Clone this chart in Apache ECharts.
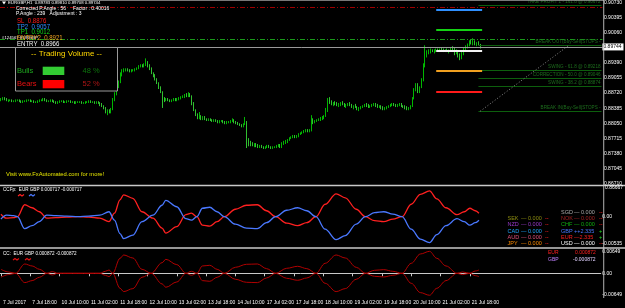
<!DOCTYPE html>
<html><head><meta charset="utf-8">
<script src="https://cdn.jsdelivr.net/npm/echarts@6/dist/echarts.min.js"></script>
<style>html,body{margin:0;padding:0;background:#000;}#c{width:625px;height:308px;}</style>
</head><body><div id="c"></div>
<script>
// ---- DATA ----
// hourly EURGBP bars: [open, high, low, close]
const candles = [
[.8856,.8861,.8854,.8858],[.8858,.8863,.8856,.8861],[.8861,.8863,.8856,.8858],[.8858,.8861,.8854,.8856],[.8856,.8858,.8852,.8856],
[.8856,.8858,.8854,.8856],[.8856,.8858,.8852,.8854],[.8854,.8856,.8852,.8854],[.8854,.8858,.8852,.8856],[.8856,.8858,.8854,.8856],
[.8856,.8858,.8852,.8854],[.8854,.8856,.8850,.8852],[.8852,.8856,.8850,.8854],[.8854,.8856,.8852,.8854],[.8854,.8858,.8852,.8856],
[.8856,.8858,.8854,.8856],[.8856,.8858,.8852,.8854],[.8854,.8856,.8852,.8854],[.8854,.8856,.8850,.8852],[.8852,.8854,.8850,.8852],
[.8852,.8856,.8850,.8854],[.8854,.8858,.8852,.8856],[.8856,.8858,.8854,.8856],[.8856,.8861,.8854,.8858],[.8858,.8861,.8854,.8856],
[.8856,.8858,.8852,.8854],[.8854,.8856,.8852,.8854],[.8854,.8858,.8852,.8856],[.8856,.8858,.8852,.8854],[.8854,.8856,.8850,.8852],
[.8852,.8854,.8848,.8850],[.8850,.8854,.8848,.8852],[.8852,.8856,.8850,.8854],[.8854,.8856,.8852,.8854],[.8854,.8856,.8850,.8852],
[.8852,.8854,.8850,.8852],[.8852,.8856,.8850,.8854],[.8854,.8856,.8852,.8854],[.8854,.8856,.8850,.8852],[.8852,.8854,.8850,.8852],
[.8852,.8854,.8848,.8850],[.8850,.8854,.8848,.8852],[.8852,.8854,.8850,.8852],[.8852,.8854,.8850,.8852],[.8852,.8854,.8848,.8850],
[.8850,.8852,.8848,.8850],[.8850,.8854,.8848,.8852],[.8852,.8854,.8850,.8852],[.8852,.8856,.8850,.8854],[.8854,.8856,.8850,.8852],
[.8852,.8854,.8850,.8852],[.8852,.8854,.8848,.8850],[.8850,.8854,.8848,.8852],[.8852,.8854,.8848,.8850],[.8850,.8852,.8843,.8845],
[.8845,.8850,.8841,.8843],[.8843,.8845,.8836,.8839],[.8839,.8841,.8827,.8830],[.8830,.8836,.8823,.8834],[.8834,.8836,.8827,.8830],
[.8830,.8839,.8827,.8836],[.8836,.8861,.8834,.8856],[.8856,.8874,.8854,.8870],[.8870,.8892,.8867,.8887],[.8887,.8900,.8883,.8896],
[.8896,.8918,.8894,.8914],[.8914,.8925,.8909,.8920],[.8920,.8927,.8918,.8923],[.8923,.8927,.8920,.8925],[.8925,.8927,.8920,.8923],
[.8923,.8925,.8918,.8920],[.8920,.8925,.8918,.8923],[.8923,.8925,.8920,.8923],[.8923,.8927,.8920,.8925],[.8925,.8929,.8923,.8927],
[.8927,.8934,.8925,.8932],[.8932,.8936,.8929,.8934],[.8934,.8936,.8929,.8932],[.8932,.8938,.8929,.8936],[.8936,.8949,.8932,.8940],
[.8940,.8943,.8929,.8932],[.8932,.8936,.8923,.8927],[.8927,.8929,.8914,.8916],[.8916,.8918,.8907,.8909],[.8909,.8914,.8900,.8903],
[.8903,.8905,.8892,.8894],[.8894,.8896,.8881,.8883],[.8883,.8887,.8872,.8874],[.8874,.8876,.8839,.8858],[.8858,.8863,.8852,.8856],
[.8856,.8861,.8854,.8858],[.8858,.8861,.8854,.8856],[.8856,.8858,.8852,.8854],[.8854,.8858,.8852,.8856],[.8856,.8861,.8854,.8858],
[.8858,.8861,.8854,.8856],[.8856,.8861,.8854,.8858],[.8858,.8863,.8856,.8861],[.8861,.8865,.8858,.8863],[.8863,.8867,.8861,.8865],
[.8865,.8870,.8861,.8867],[.8867,.8872,.8863,.8865],[.8865,.8874,.8863,.8870],[.8870,.8872,.8863,.8865],[.8865,.8867,.8845,.8850],
[.8850,.8852,.8832,.8834],[.8834,.8836,.8821,.8825],[.8825,.8827,.8814,.8819],[.8819,.8830,.8814,.8821],[.8821,.8823,.8812,.8816],
[.8816,.8821,.8812,.8819],[.8819,.8821,.8812,.8814],[.8814,.8816,.8810,.8812],[.8812,.8816,.8810,.8814],[.8814,.8816,.8810,.8812],
[.8812,.8814,.8808,.8810],[.8810,.8814,.8808,.8812],[.8812,.8814,.8808,.8810],[.8810,.8812,.8805,.8808],[.8808,.8812,.8805,.8810],
[.8810,.8812,.8808,.8810],[.8810,.8812,.8805,.8808],[.8808,.8810,.8803,.8805],[.8805,.8810,.8803,.8808],[.8808,.8810,.8805,.8808],
[.8808,.8812,.8805,.8810],[.8810,.8816,.8808,.8812],[.8812,.8814,.8805,.8808],[.8808,.8810,.8803,.8805],[.8805,.8808,.8801,.8803],
[.8803,.8805,.8799,.8801],[.8801,.8803,.8796,.8799],[.8799,.8805,.8796,.8803],[.8803,.8819,.8801,.8808],[.8808,.8810,.8750,.8768],
[.8768,.8772,.8754,.8761],[.8761,.8766,.8754,.8759],[.8759,.8763,.8754,.8757],[.8757,.8761,.8752,.8759],[.8759,.8761,.8752,.8754],
[.8754,.8759,.8750,.8752],[.8752,.8757,.8750,.8754],[.8754,.8757,.8750,.8752],[.8752,.8754,.8748,.8750],[.8750,.8754,.8748,.8752],
[.8752,.8757,.8750,.8754],[.8754,.8757,.8750,.8752],[.8752,.8754,.8748,.8750],[.8750,.8754,.8748,.8752],[.8752,.8754,.8750,.8752],
[.8752,.8757,.8750,.8754],[.8754,.8759,.8752,.8757],[.8757,.8759,.8750,.8752],[.8752,.8763,.8750,.8761],[.8761,.8766,.8757,.8763],
[.8763,.8768,.8759,.8766],[.8766,.8770,.8761,.8768],[.8768,.8774,.8766,.8772],[.8772,.8776,.8770,.8774],[.8774,.8779,.8772,.8776],
[.8776,.8779,.8772,.8774],[.8774,.8779,.8772,.8776],[.8776,.8783,.8774,.8781],[.8781,.8785,.8779,.8783],[.8783,.8787,.8781,.8785],
[.8785,.8790,.8783,.8787],[.8787,.8792,.8785,.8790],[.8790,.8792,.8785,.8787],[.8787,.8792,.8785,.8790],[.8790,.8823,.8787,.8812],
[.8812,.8816,.8803,.8808],[.8808,.8812,.8805,.8810],[.8810,.8814,.8808,.8812],[.8812,.8816,.8810,.8814],[.8814,.8819,.8810,.8816],
[.8816,.8821,.8812,.8819],[.8819,.8823,.8814,.8821],[.8821,.8839,.8819,.8834],[.8834,.8861,.8830,.8854],[.8854,.8863,.8848,.8852],
[.8852,.8856,.8845,.8848],[.8848,.8852,.8843,.8850],[.8850,.8854,.8845,.8848],[.8848,.8852,.8843,.8845],[.8845,.8850,.8841,.8848],
[.8848,.8852,.8843,.8850],[.8850,.8854,.8845,.8848],[.8848,.8850,.8841,.8843],[.8843,.8848,.8839,.8845],[.8845,.8850,.8843,.8848],
[.8848,.8852,.8843,.8845],[.8845,.8848,.8839,.8841],[.8841,.8845,.8836,.8843],[.8843,.8848,.8839,.8841],[.8841,.8843,.8834,.8836],
[.8836,.8841,.8832,.8839],[.8839,.8843,.8836,.8841],[.8841,.8845,.8839,.8843],[.8843,.8848,.8841,.8845],[.8845,.8850,.8841,.8843],
[.8843,.8848,.8839,.8841],[.8841,.8845,.8839,.8843],[.8843,.8848,.8841,.8845],[.8845,.8850,.8843,.8848],[.8848,.8850,.8841,.8843],
[.8843,.8848,.8839,.8841],[.8841,.8845,.8839,.8843],[.8843,.8845,.8836,.8839],[.8839,.8843,.8834,.8836],[.8836,.8841,.8834,.8839],
[.8839,.8843,.8836,.8841],[.8841,.8845,.8839,.8843],[.8843,.8848,.8841,.8845],[.8845,.8850,.8843,.8848],[.8848,.8850,.8843,.8845],
[.8845,.8848,.8841,.8843],[.8843,.8848,.8841,.8845],[.8845,.8850,.8843,.8848],[.8848,.8850,.8841,.8843],[.8843,.8845,.8839,.8841],
[.8841,.8845,.8836,.8839],[.8839,.8843,.8834,.8836],[.8836,.8841,.8834,.8839],[.8839,.8845,.8836,.8843],[.8843,.8863,.8841,.8861],
[.8861,.8883,.8858,.8878],[.8878,.8894,.8876,.8889],[.8889,.8894,.8872,.8874],[.8874,.8887,.8872,.8885],[.8885,.8905,.8883,.8900],
[.8900,.8938,.8898,.8932],[.8932,.8978,.8929,.8956],[.8956,.8967,.8951,.8963],[.8963,.8969,.8958,.8965],[.8965,.8971,.8960,.8967],
[.8967,.8969,.8963,.8965],[.8965,.8969,.8960,.8967],[.8967,.8971,.8963,.8969],[.8969,.8971,.8965,.8967],[.8967,.8971,.8965,.8969],
[.8969,.8974,.8965,.8967],[.8967,.8971,.8963,.8965],[.8965,.8969,.8963,.8967],[.8967,.8971,.8963,.8965],[.8965,.8969,.8960,.8967],
[.8967,.8974,.8965,.8971],[.8971,.8976,.8965,.8967],[.8967,.8974,.8956,.8960],[.8960,.8969,.8958,.8965],[.8965,.8967,.8951,.8954],
[.8954,.8960,.8945,.8949],[.8949,.8963,.8947,.8958],[.8958,.8974,.8956,.8969],[.8969,.8978,.8967,.8974],[.8974,.8982,.8971,.8978],
[.8978,.8989,.8976,.8985],[.8985,.8991,.8980,.8982],[.8982,.8994,.8978,.8987],[.8987,.8989,.8978,.8980],[.8980,.8985,.8976,.8982],
[.8982,.8987,.8978,.8980],[.89783,.89810,.89708,.89744]
];
const slotCount = 328;                 // bar slots incl. right-side chart shift
const timeLabels = ['7 Jul 2017','7 Jul 18:00','10 Jul 10:00','11 Jul 02:00','11 Jul 18:00','12 Jul 10:00','13 Jul 02:00','13 Jul 18:00','14 Jul 10:00','17 Jul 02:00','17 Jul 18:00','18 Jul 10:00','19 Jul 02:00','19 Jul 18:00','20 Jul 10:00','21 Jul 02:00','21 Jul 18:00'];
const barsPerLabel = 16;
const priceTicks = [0.90730,0.90395,0.90060,0.89390,0.89055,0.88720,0.88385,0.88050,0.87715,0.87380,0.87045,0.86710];
const priceRange = [0.86667, 0.90776];
const lastPrice = 0.89744;
const tradeNames = ['TP2','TP1','ENTRY','ENTRY2','SL'];
const tradeValues = [0.9057,0.9012,0.8966,0.8921,0.8876];
const tradeSpan = [237, 262];
const fibNames = ['TAKE PROFIT 1 - 161.8','SWING - 61.8','CORRECTION - 50.0','SWING - 38.2'];
const fibValues = [0.90672,0.89218,0.89046,0.88874];
const breakNames = ['BREAK OUT(Buy-Sell)STOPS -','BREAK IN(Buy-Sell)STOPS -'];
const breakValues = [0.89773,0.88319];
const fibSpan = [260, 327];
const diagEnds = [[261,0.88319],[309,0.89773]];
const dashRed = 0.90621, dashGreen = 0.89906;
// CCFp (index, value)
const ccfpEur = [[0,0.0005],[3,-0.0003],[7,-0.0002],[9,0],[13,0.0024],[17,0.0018],[21,0.0010],[25,-0.0003],[30,-0.0002],[36,-0.0001],[42,0],[48,-0.0001],[54,-0.0003],[59,-0.0010],[62,0.0007],[65,0.0034],[67,0.0044],[72,0.0037],[77,0.0010],[83,-0.0003],[88,-0.0023],[90,-0.0033],[96,-0.0020],[101,0.0004],[104,0.0007],[107,0],[110,-0.0017],[114,-0.0019],[118,-0.0010],[122,0],[128,0.0015],[134,0.0023],[140,0.0024],[145,0.0012],[150,0],[156,-0.0013],[162,-0.0018],[167,-0.0012],[172,0],[177,0.0025],[183,0.0046],[188,0.0038],[194,0.0015],[199,0],[204,-0.0008],[209,-0.0010],[214,-0.0005],[219,0],[224,0.0025],[229,0.0045],[234,0.0052],[238,0.0036],[243,0.0018],[249,0.0004],[253,0.0010],[256,0.0017],[259,0.0012],[261,0.0007]];
const ccfpGbp = [[0,-0.0005],[3,0.0003],[7,0.0002],[9,0],[13,-0.0024],[17,-0.0018],[21,-0.0010],[25,0.0003],[30,0.0002],[36,0.0001],[42,0],[48,0.0001],[54,0.0003],[59,0.0010],[62,-0.0007],[65,-0.0034],[67,-0.0044],[72,-0.0037],[77,-0.0010],[83,0.0003],[88,0.0023],[90,0.0033],[96,0.0020],[101,-0.0004],[104,-0.0007],[107,0],[110,0.0017],[114,0.0019],[118,0.0010],[122,0],[128,-0.0015],[134,-0.0023],[140,-0.0024],[145,-0.0012],[150,0],[156,0.0013],[162,0.0018],[167,0.0012],[172,0],[177,-0.0025],[183,-0.0046],[188,-0.0038],[194,-0.0015],[199,0],[204,0.0008],[209,0.0010],[214,0.0005],[219,0],[224,-0.0025],[229,-0.0045],[234,-0.0052],[238,-0.0036],[243,-0.0018],[249,-0.0004],[253,-0.0010],[256,-0.0017],[259,-0.0012],[261,-0.0007]];
const ccfpTicks = [0, -0.00535];
const ccfpRange = [-0.00619, 0.00607];
// CC (index, value)
const ccEur = [[0,0.0012],[4,0.0004],[8,0],[13,0.0028],[17,0.0022],[21,0.0012],[25,0],[28,-0.0005],[31,0],[36,0],[42,0],[48,0],[54,0],[57,-0.0006],[59,-0.0010],[61,0],[65,0.0045],[67,0.0055],[72,0.0046],[77,0.0012],[82,0],[88,-0.0032],[90,-0.0042],[96,-0.0026],[101,0],[104,0.0006],[107,0],[110,-0.0022],[114,-0.0024],[118,-0.0012],[122,0],[128,0.0018],[134,0.0027],[140,0.0028],[145,0.0014],[150,0],[156,-0.0015],[162,-0.0021],[167,-0.0014],[172,0],[177,0.0030],[183,0.0055],[188,0.0046],[194,0.0018],[199,0],[204,-0.0009],[209,-0.0011],[214,-0.0006],[219,0],[224,0.0030],[229,0.0058],[234,0.0066],[238,0.0045],[243,0.0022],[249,0],[252,0.0004],[256,0],[259,0.0007],[261,0.0010]];
const ccGbp = [[0,-0.0012],[4,-0.0004],[8,0],[13,-0.0028],[17,-0.0022],[21,-0.0012],[25,0],[28,0.0005],[31,0],[36,0],[42,0],[48,0],[54,0],[57,0.0006],[59,0.0010],[61,0],[65,-0.0045],[67,-0.0055],[72,-0.0046],[77,-0.0012],[82,0],[88,0.0032],[90,0.0042],[96,0.0026],[101,0],[104,-0.0006],[107,0],[110,0.0022],[114,0.0024],[118,0.0012],[122,0],[128,-0.0018],[134,-0.0027],[140,-0.0028],[145,-0.0014],[150,0],[156,0.0015],[162,0.0021],[167,0.0014],[172,0],[177,-0.0030],[183,-0.0055],[188,-0.0046],[194,-0.0018],[199,0],[204,0.0009],[209,0.0011],[214,0.0006],[219,0],[224,-0.0030],[229,-0.0058],[234,-0.0066],[238,-0.0045],[243,-0.0022],[249,0],[252,-0.0004],[256,0],[259,-0.0007],[261,-0.0010]];
const ccTicks = [0.00649, 0, -0.00649];
const ccRange = [-0.00727, 0.00745];
const curLeft = ['SEK','NZD','CAD','AUD','JPY'];
const curLeftVal = ['\u2014 0.000','\u2014 0.000','\u2014 0.000','\u2014 0.000','\u2014 0.000'];
const curRight = ['SGD','NOK','CHF','GBP','EUR','USD'];
const curRightVal = ['\u2014 0.000','\u2014 0.000','\u2014 0.000','++2.335','\u20142.335','\u2014 0.000'];
const curRightMark = ['--','--','--','+','+','--'];
const bullsPct = 48, bearsPct = 52;

// ---- STYLE / RENDER ----
const F = '"Liberation Sans", Arial, sans-serif';
const chart = echarts.init(document.getElementById('c'), null, {renderer:'canvas', width:625, height:308});
const slots = Array.from({length: slotCount}, (_, i) => i);
const tickIdx = timeLabels.map((_, k) => k * barsPerLabel);
const tradeColors = ['#2f8fff','#14d214','#f2f2f2','#f0a020','#ff1a1a'];
const fibGreen = '#0d5f0d', fibText = '#1d6e1d';

function T(x, y, text, fill, size, extra) {
  return Object.assign({type:'text', x:x, y:y, silent:true, z:50,
    style:{text:text, fill:fill, fontSize:size, fontFamily:F, textAlign:'left', textVerticalAlign:'middle', align:'left', verticalAlign:'middle'}}, extra || {});
}
const markData = [];
markData.push({yAxis: lastPrice, lineStyle:{color:'#9a9a9a', type:'solid', width:1},
  label:{show:true, position:'end', formatter: lastPrice.toFixed(5), backgroundColor:'#fff', color:'#000', fontSize:5, fontFamily:F, padding:[1,2,1,1], distance:0}});
markData.push({yAxis: dashRed, lineStyle:{color:'#a00000', type:[5,2,1,2], width:1}, label:{show:false}});
markData.push({yAxis: dashGreen, lineStyle:{color:'#1a9a1a', type:[5,2,1,2], width:1}, label:{show:false}});
fibValues.forEach((v, k) => markData.push([
  {coord:[fibSpan[0], v], lineStyle:{color:fibGreen, type:'solid', width:1},
   label:{show:true, position:'insideEndTop', formatter: fibNames[k] + ' @ ' + v.toFixed(5), color:fibText, fontSize:4.6, fontFamily:F, distance:[1,1]}},
  {coord:[fibSpan[1], v]}]));
breakValues.forEach((v, k) => markData.push([
  {coord:[fibSpan[0], v], lineStyle:{color:fibGreen, type:'solid', width:1},
   label:{show:true, position:'insideEndTop', formatter: breakNames[k], color:fibText, fontSize:4.6, fontFamily:F, distance:[1,1]}},
  {coord:[fibSpan[1], v]}]));
markData.push([{coord:diagEnds[0], lineStyle:{color:'#8a8a8a', type:[1,2], width:1}, label:{show:false}}, {coord:diagEnds[1]}]);
tradeValues.forEach((v, k) => markData.push([
  {coord:[tradeSpan[0], v], lineStyle:{color:tradeColors[k], type:'solid', width:2}, label:{show:false}},
  {coord:[tradeSpan[1], v]}]));

const graphics = [
  {type:'rect', silent:true, z:40, shape:{x:0, y:0, width:604, height:0.8}, style:{fill:'#a0a0a0'}},
  {type:'rect', silent:true, z:40, shape:{x:0, y:184.8, width:625, height:1.4}, style:{fill:'#c8c8c8'}},
  {type:'rect', silent:true, z:40, shape:{x:0, y:247.3, width:625, height:1.4}, style:{fill:'#c8c8c8'}},
  {type:'rect', silent:true, z:40, shape:{x:603.3, y:0, width:0.9, height:298}, style:{fill:'#c8c8c8'}},
  {type:'polygon', silent:true, z:50, shape:{points:[[2,1.6],[6,1.6],[4,4.6]]}, style:{fill:'#fff'}},
  T(8, 3.2, 'EURGBP,H1  0.89783 0.89810 0.89708 0.89744', '#fff', 4.3),
  T(16, 8.8, 'Corrected P.Angle : 56     Factor : 0.40016', '#fff', 5),
  T(16, 14, 'P.Angle : 239   Adjustment : 3', '#fff', 5),
  T(2, 38.3, '#124567 EURGBP', '#fff', 4.3),
];
const tradeY = [26.7, 32.2, 43.8, 37.8, 21.2];
tradeNames.forEach((n, k) => graphics.push(T(17, tradeY[k], n + '  ' + tradeValues[k].toFixed(4), tradeColors[k], 7.4, {scaleX:0.82})));
graphics.push(
  {type:'rect', silent:true, z:45, shape:{x:15.5, y:47.5, width:102, height:43.5}, style:{fill:'#000', stroke:'#9a9a9a', lineWidth:1}},
  T(66.5, 54, '-- Trading Volume --', '#ffd700', 8, {style:{text:'-- Trading Volume --', fill:'#ffd700', fontSize:8, fontFamily:F, textAlign:'center', align:'center', textVerticalAlign:'middle', verticalAlign:'middle'}}),
  T(17, 70.8, 'Bulls', '#1fa81f', 7.5),
  {type:'rect', silent:true, z:50, shape:{x:42.7, y:66.7, width:21.6, height:8.3}, style:{fill:'#33cc33'}},
  T(82.5, 70.8, bullsPct + ' %', '#0c760c', 7.5),
  T(17, 84.3, 'Bears', '#e81010', 7.5),
  {type:'rect', silent:true, z:50, shape:{x:42.7, y:80, width:21.6, height:8.3}, style:{fill:'#ff0000'}},
  T(82.5, 84.3, bearsPct + ' %', '#b01515', 7.5),
  T(6, 174, 'Visit www.FxAutomated.com for more!', '#e6e600', 5.8),
  T(605, 187.6, priceRange[0].toFixed(5), '#fff', 5),
  T(3, 190.2, 'CCFp:  EUR GBP 0.000717 -0.000717', '#fff', 4.6),
  {type:'polyline', silent:true, z:50, shape:{points:[[18,196],[20,194.6],[22,196],[24,194.6]]}, style:{stroke:'#ff2020', lineWidth:1.2, fill:null}},
  {type:'polyline', silent:true, z:50, shape:{points:[[29,196],[31,194.6],[33,196],[35,194.6]]}, style:{stroke:'#4a78ff', lineWidth:1.2, fill:null}},
  T(3, 253.3, 'CC:  EUR GBP 0.000872 -0.000872', '#fff', 4.6),
  {type:'polyline', silent:true, z:50, shape:{points:[[13,260],[15,258.6],[17,260],[19,258.6]]}, style:{stroke:'#e01010', lineWidth:1.2, fill:null}},
  {type:'polyline', silent:true, z:50, shape:{points:[[25,260],[27,258.6],[29,260],[31,258.6]]}, style:{stroke:'#e01010', lineWidth:1.2, fill:null}},
  T(548, 252.7, 'EUR', '#ff2020', 5),
  T(548, 260, 'GBP', '#c080ff', 5),
  T(575, 252.7, '0.000872', '#ff2020', 5),
  T(573, 260, '-0.000872', '#e0d0ff', 5)
);
const leftColors = ['#8c8c10','#9a3acc','#1ea8ff','#e0507a','#ff8c00'];
const leftY = [218.4, 224.6, 231, 237.5, 243.8];
curLeft.forEach((n, k) => {
  graphics.push(T(507.5, leftY[k], n, leftColors[k], 5.5));
  graphics.push(T(521, leftY[k], curLeftVal[k], leftColors[k], 5.5));
  graphics.push(T(545, leftY[k], '--', '#ff2020', 5.5));
});
const rightColors = ['#a8a8a8','#a02020','#10b010','#4a78ff','#ff2020','#ffffff'];
const rightY = [212.2, 218.4, 224.6, 231, 237.5, 243.8];
curRight.forEach((n, k) => {
  graphics.push(T(561, rightY[k], n, rightColors[k], 5.5));
  graphics.push(T(574, rightY[k], curRightVal[k], rightColors[k], 5.5));
  graphics.push(T(599, rightY[k], curRightMark[k], curRightMark[k] === '+' ? '#20e020' : '#ff2020', 5.5));
});

const axLbl = {color:'#fff', fontSize:5, fontFamily:F, margin:1.5};
const option = {
  backgroundColor:'#000',
  animation:false,
  grid:[
    {left:0, right:21, top:0, height:185.6},
    {left:0, right:21, top:186.5, height:61},
    {left:0, right:21, top:248.5, height:49}
  ],
  xAxis:[
    {type:'category', gridIndex:0, data:slots, boundaryGap:true, axisLine:{show:false}, axisTick:{show:false}, axisLabel:{show:false}, splitLine:{show:false}},
    {type:'value', gridIndex:1, min:-0.5, max:slotCount-0.5, show:false},
    {type:'value', gridIndex:2, min:-0.5, max:slotCount-0.5,
      axisLine:{show:true, lineStyle:{color:'#c8c8c8', width:1}},
      axisTick:{show:true, customValues:tickIdx, length:3, lineStyle:{color:'#c8c8c8'}},
      axisLabel:{customValues:tickIdx, formatter:v => timeLabels[Math.round(v / barsPerLabel)], align:'left', padding:[0,0,0,2], color:'#fff', fontSize:5, fontFamily:F, margin:2.5},
      splitLine:{show:false}}
  ],
  yAxis:[
    {type:'value', gridIndex:0, position:'right', min:priceRange[0], max:priceRange[1], axisLine:{show:false}, axisTick:{show:false}, splitLine:{show:false},
      axisLabel:Object.assign({customValues:priceTicks, formatter:v => v.toFixed(5)}, axLbl)},
    {type:'value', gridIndex:1, position:'right', min:ccfpRange[0], max:ccfpRange[1], axisLine:{show:false}, axisTick:{show:false}, splitLine:{show:false},
      axisLabel:Object.assign({customValues:ccfpTicks, formatter:v => v === 0 ? '0.00' : v.toFixed(5)}, axLbl)},
    {type:'value', gridIndex:2, position:'right', min:ccRange[0], max:ccRange[1], axisLine:{show:false}, axisTick:{show:false}, splitLine:{show:false},
      axisLabel:Object.assign({customValues:ccTicks, formatter:v => v === 0 ? '0.00' : v.toFixed(5)}, axLbl)}
  ],
  series:[
    {type:'candlestick', xAxisIndex:0, yAxisIndex:0, barWidth:1,
      data:candles.map(b => [b[0], b[3], b[2], b[1]]),
      itemStyle:{color:'#00d800', color0:'#e8ffe8', borderColor:'#00e400', borderColor0:'#3cf03c', borderWidth:0.8},
      markLine:{silent:true, symbol:['none','none'], animation:false, precision:5, data:markData}},
    {type:'line', xAxisIndex:1, yAxisIndex:1, data:ccfpEur, smooth:0.35, smoothMonotone:'x', symbol:'none', lineStyle:{color:'#ff2020', width:1.3}},
    {type:'line', xAxisIndex:1, yAxisIndex:1, data:ccfpGbp, smooth:0.35, smoothMonotone:'x', symbol:'none', lineStyle:{color:'#4a78ff', width:1.3}},
    {type:'line', xAxisIndex:2, yAxisIndex:2, data:ccEur, smooth:0.35, smoothMonotone:'x', symbol:'none', lineStyle:{color:'#b00000', width:1}},
    {type:'line', xAxisIndex:2, yAxisIndex:2, data:ccGbp, smooth:0.35, smoothMonotone:'x', symbol:'none', lineStyle:{color:'#b00000', width:1}}
  ],
  graphic:graphics
};
chart.setOption(option);
</script></body></html>
